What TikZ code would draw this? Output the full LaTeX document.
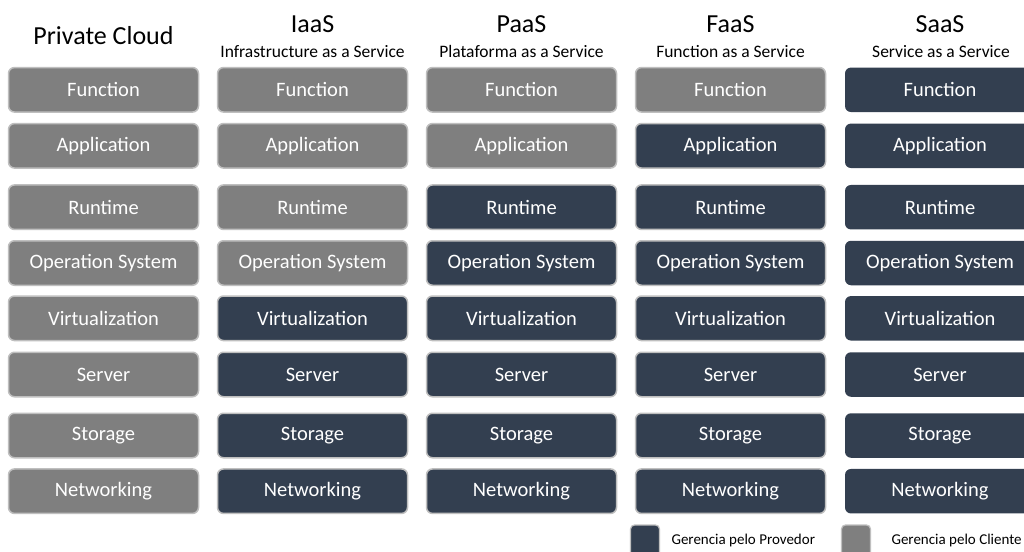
\documentclass[tikz,border=0pt]{standalone}
\usepackage{fontspec}
\setmainfont{Carlito}
\definecolor{custgray}{HTML}{7F7F7F}
\definecolor{provdark}{HTML}{333F50}
\definecolor{edgegray}{HTML}{BFBFBF}
\begin{document}
\begin{tikzpicture}[x=1pt,y=-1pt,
 layer/.style={rounded corners=6pt, minimum width=190pt, minimum height=44.5pt, inner sep=0pt, text=white, font=\fontsize{20.5}{24}\selectfont},
 client/.style={layer, fill=custgray, draw=edgegray, line width=1.5pt},
 provider/.style={layer, fill=provdark, draw=edgegray, line width=1.5pt},
 providerbare/.style={layer, fill=provdark},
 head/.style={anchor=base, font=\fontsize{26}{30}\selectfont},
 subhead/.style={anchor=base, font=\fontsize{17.5}{20}\selectfont},
 legbox/.style={rounded corners=4pt, minimum width=29pt, minimum height=34pt, inner sep=0pt, draw=edgegray, line width=1.2pt},
 legtext/.style={anchor=base west, font=\fontsize{15}{18}\selectfont}]
\clip (0,0) rectangle (1024,551);
\fill[white] (0,0) rectangle (1024,551);
% headers
\node[head] (h1) at (103.5,45) {Private Cloud};
\node[head] (h2) at (312.5,33) {IaaS};
\node[subhead] (s2) at (312.5,57) {Infrastructure as a Service};
\node[head] (h3) at (521.5,33) {PaaS};
\node[subhead] (s3) at (521.5,57) {Plataforma as a Service};
\node[head] (h4) at (730.5,33) {FaaS};
\node[subhead] (s4) at (730.5,57) {Function as a Service};
\node[head] (h5) at (940,33) {SaaS};
\node[subhead] (s5) at (941,57) {Service as a Service};
% layer boxes
\foreach \lab [count=\r] in {Function,Application,Runtime,Operation System,Virtualization,Server,Storage,Networking}{
  \pgfmathsetmacro{\ry}{{89.8,145.8,207.2,263,318.3,374.5,435.5,491.2}[\r-1]}
  \foreach \cx/\g [count=\c] in {103.5/8,312.5/4,521.5/2,730.5/1,940/0}{
    \ifnum\r>\g \def\sty{provider}\else\def\sty{client}\fi
    \ifnum\c=5 \def\sty{providerbare}\fi
    \node[\sty] (b\c-\r) at (\cx,\ry) {\lab};
  }
}
% legend
\node[legbox, fill=provdark] (lg1) at (645,542) {};
\node[legtext] (lt1) at (668,544) {Gerencia pelo Provedor};
\node[legbox, fill=custgray] (lg2) at (856,542) {};
\node[legtext] (lt2) at (888,544) {Gerencia pelo Cliente};
\end{tikzpicture}
\end{document}
